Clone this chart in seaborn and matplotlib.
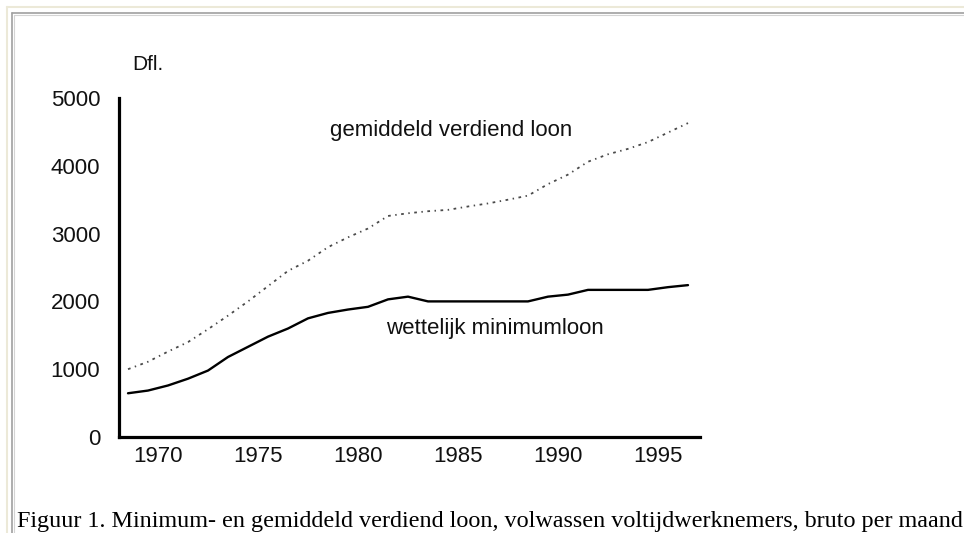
import matplotlib
matplotlib.use("Agg")
import matplotlib.pyplot as plt
import seaborn as sns
import pandas as pd
from matplotlib.lines import Line2D

# ---- data ----
years = list(range(1968, 1997))
min_wage = [645, 685, 760, 860, 980, 1180, 1330, 1480, 1600, 1750,
            1830, 1880, 1920, 2030, 2070, 2000, 2000, 2000, 2000, 2000,
            2000, 2070, 2100, 2170, 2170, 2170, 2170, 2210, 2240]
avg_wage = [1000, 1110, 1260, 1400, 1590, 1790, 2000, 2225, 2450, 2600,
            2800, 2945, 3075, 3260, 3300, 3330, 3350, 3400, 3445, 3500,
            3560, 3730, 3870, 4060, 4170, 4250, 4350, 4490, 4630]
xticks = [1970, 1975, 1980, 1985, 1990, 1995]
yticks = [0, 1000, 2000, 3000, 4000, 5000]
unit_label = "Dfl."
avg_label = "gemiddeld verdiend loon"
min_label = "wettelijk minimumloon"
caption = ("Figuur 1. Minimum- en gemiddeld verdiend loon, volwassen "
           "voltijdwerknemers, bruto per maand")

sns.set_style("white")
plt.rcParams['font.family'] = ['Liberation Sans', 'DejaVu Sans']

W, H = 964, 533
fig = plt.figure(figsize=(W / 100, H / 100), dpi=100)
fig.patch.set_facecolor("white")

def fx(px):
    return px / W

def fy(py):
    return 1 - py / H

ax = fig.add_axes([fx(119), fy(437), (700 - 119) / W, (437 - 98) / H])

df = pd.DataFrame({"year": years, "min": min_wage, "avg": avg_wage})
df["mid"] = df["year"] + 0.5  # yearly values plotted at mid-year

sns.lineplot(data=df, x="mid", y="avg", ax=ax, color="#4a4a4a",
             linewidth=1.3, linestyle=(0, (1.5, 2.5, 0.8, 2.5)))
sns.lineplot(data=df, x="mid", y="min", ax=ax, color="black", linewidth=1.7)

ax.set_xlim(1968.05, 1997.1)
ax.set_ylim(0, 5000)
ax.set_xticks(xticks)
ax.set_yticks(yticks)
ax.set_xlabel("")
ax.set_ylabel("")
for s in ["top", "right"]:
    ax.spines[s].set_visible(False)
for s in ["left", "bottom"]:
    ax.spines[s].set_linewidth(2.3)
    ax.spines[s].set_color("black")
ax.tick_params(axis="both", length=2.5, width=2, color="black",
               direction="out", labelsize=16, labelcolor="#111111")
ax.tick_params(axis="y", pad=11)
ax.tick_params(axis="x", pad=4)
ax.grid(False)
ax.set_facecolor("white")

# annotations
fig.text(fx(132), fy(70), unit_label, fontsize=15, va="baseline", ha="left",
         color="#111111")
fig.text(fx(330), fy(136), avg_label, fontsize=16, va="baseline", ha="left",
         color="#111111")
fig.text(fx(386), fy(334), min_label, fontsize=16, va="baseline", ha="left",
         color="#111111")

# caption
fig.text(fx(17), fy(527), caption, fontsize=17.4, va="baseline", ha="left",
         family=["Liberation Serif", "DejaVu Serif"], color="black")

# page-like frame
beige = "#ece9d8"
grey = "#a0a0a0"
light = "#d4d4d4"
fig.add_artist(Line2D([fx(7), 1], [fy(7), fy(7)], color=beige, lw=1.5,
                      transform=fig.transFigure))
fig.add_artist(Line2D([fx(7), fx(7)], [fy(7), 0], color=beige, lw=1.5,
                      transform=fig.transFigure))
fig.add_artist(Line2D([fx(12), 1], [fy(13), fy(13)], color=grey, lw=1.2,
                      transform=fig.transFigure))
fig.add_artist(Line2D([fx(12), fx(12)], [fy(13), 0], color=grey, lw=1.2,
                      transform=fig.transFigure))
fig.add_artist(Line2D([fx(13.5), 1], [fy(14.5), fy(14.5)], color=light, lw=0.8,
                      transform=fig.transFigure))
fig.add_artist(Line2D([fx(13.5), fx(13.5)], [fy(14.5), 0], color=light, lw=0.8,
                      transform=fig.transFigure))

fig.savefig("out.png", dpi=100, facecolor="white")
